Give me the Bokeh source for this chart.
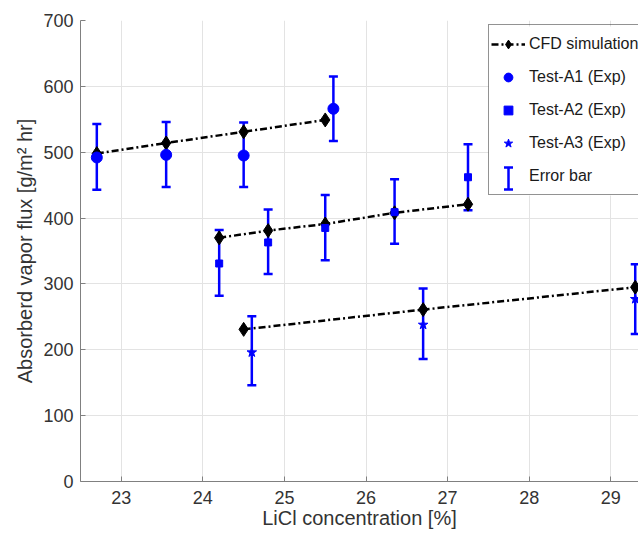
from bokeh.plotting import figure
from bokeh.models import (Legend, LegendItem, FixedTicker, Range1d)
from bokeh.embed import file_html
from bokeh.resources import INLINE

# ---- data ----
cfd1_x = [22.7, 23.55, 24.5, 25.5]
cfd1_y = [498, 514, 531, 549]
cfd2_x = [24.2, 24.8, 25.5, 26.35, 27.25]
cfd2_y = [370, 381, 391, 408, 421]
cfd3_x = [24.5, 26.7, 29.3]
cfd3_y = [231, 261, 295]

a1_x = [22.7, 23.55, 24.5, 25.6]
a1_y = [492, 496, 495, 566]
a1_low = [443, 447, 447, 517]
a1_up = [543, 546, 545, 615]

a2_x = [24.2, 24.8, 25.5, 26.35, 27.25]
a2_y = [331, 363, 385, 409, 462]
a2_low = [282, 315, 336, 361, 412]
a2_up = [382, 413, 435, 459, 512]

a3_x = [24.6, 26.7, 29.3]
a3_y = [196, 238, 277]
a3_low = [146, 186, 224]
a3_up = [251, 293, 330]

x_ticks = [23, 24, 25, 26, 27, 28, 29]
y_ticks = [0, 100, 200, 300, 400, 500, 600, 700]

legend_labels = ["CFD simulation", "Test-A1 (Exp)", "Test-A2 (Exp)", "Test-A3 (Exp)", "Error bar"]

FONT = "Liberation Sans"
BLUE = "#0000FF"

FRAME_W, FRAME_H = 558, 461
LEG_X, LEG_Y, LEG_H = 408, 286, 169   # legend box, frame pixels (bottom-left origin)

p = figure(width=638, height=536, x_range=Range1d(22.5, 29.34), y_range=Range1d(0, 700),
           output_backend="svg", toolbar_location=None,
           min_border_left=80, min_border_right=0, min_border_top=20, min_border_bottom=55)
p.outline_line_color = None
p.background_fill_color = "white"
p.border_fill_color = "white"
# pixel ranges used only for the legend background and its error-bar icon
p.extra_x_ranges = {"px": Range1d(0, FRAME_W)}
p.extra_y_ranges = {"px": Range1d(0, FRAME_H)}

# axes
for ax in (p.xaxis[0], p.yaxis[0]):
    ax.axis_line_color = "#808080"
    ax.axis_line_width = 1
    ax.major_tick_line_color = "#808080"
    ax.major_tick_in = 5
    ax.major_tick_out = 0
    ax.minor_tick_line_color = None
    ax.major_label_text_font = FONT
    ax.major_label_text_font_size = "18px"
    ax.major_label_text_color = "#333333"
    ax.axis_label_text_font = FONT
    ax.axis_label_text_font_size = "20px"
    ax.axis_label_text_font_style = "normal"
    ax.axis_label_text_color = "#333333"

p.xaxis.ticker = FixedTicker(ticks=x_ticks)
p.yaxis.ticker = FixedTicker(ticks=y_ticks)
p.xaxis.axis_label = "LiCl concentration [%]"
p.yaxis.axis_label = "Absorberd vapor flux [g/m\u00b2 hr]"
p.xaxis.major_label_standoff = 9
p.xaxis.axis_label_standoff = 0
p.yaxis.major_label_standoff = 7
p.yaxis.axis_label_standoff = 4

p.xgrid.ticker = FixedTicker(ticks=x_ticks)
p.ygrid.ticker = FixedTicker(ticks=y_ticks)
p.grid.grid_line_color = "#e3e3e3"
p.grid.grid_line_width = 1

# error bars (drawn first)
eb_x = a1_x + a2_x + a3_x
eb_low = a1_low + a2_low + a3_low
eb_up = a1_up + a2_up + a3_up
p.segment(x0=eb_x, y0=eb_low, x1=eb_x, y1=eb_up, line_color=BLUE, line_width=2.5)
p.scatter(x=eb_x, y=eb_low, marker="dash", size=9, line_color=BLUE, line_width=2.5)
p.scatter(x=eb_x, y=eb_up, marker="dash", size=9, line_color=BLUE, line_width=2.5)

# CFD simulation lines
dash = "7 3 2 3"
cfd_line = None
for xs, ys in ((cfd1_x, cfd1_y), (cfd2_x, cfd2_y), (cfd3_x, cfd3_y)):
    r = p.line(xs, ys, line_color="black", line_width=2.5, line_dash=dash)
    if cfd_line is None:
        cfd_line = r
cfd_pts = p.scatter(cfd1_x + cfd2_x + cfd3_x, cfd1_y + cfd2_y + cfd3_y, marker="diamond",
                    size=14, fill_color="black", line_color="black")

# experiments
r1 = p.scatter(a1_x, a1_y, marker="circle", size=11, fill_color=BLUE, line_color=BLUE)
r2 = p.scatter(a2_x, a2_y, marker="square", size=7, fill_color=BLUE, line_color=BLUE)
r3 = p.scatter(a3_x, a3_y, marker="star", size=10, fill_color=BLUE, line_color=BLUE)

dummy = p.scatter(x=[], y=[], marker="circle", alpha=0)

# white legend background (covers grid), then the error-bar icon on it
p.quad(left=[LEG_X], right=[FRAME_W + 10], bottom=[LEG_Y], top=[LEG_Y + LEG_H],
       fill_color="white", line_color=None, x_range_name="px", y_range_name="px")
ix, iy0, iy1 = [428], [292], [314]
p.segment(x0=ix, y0=iy0, x1=ix, y1=iy1, line_color=BLUE, line_width=2.5,
          x_range_name="px", y_range_name="px")
p.scatter(x=ix, y=iy0, marker="dash", size=9, line_color=BLUE, line_width=2.5,
          x_range_name="px", y_range_name="px")
p.scatter(x=ix, y=iy1, marker="dash", size=9, line_color=BLUE, line_width=2.5,
          x_range_name="px", y_range_name="px")

legend = Legend(items=[
    LegendItem(label=legend_labels[0], renderers=[cfd_line, cfd_pts]),
    LegendItem(label=legend_labels[1], renderers=[r1]),
    LegendItem(label=legend_labels[2], renderers=[r2]),
    LegendItem(label=legend_labels[3], renderers=[r3]),
    LegendItem(label=legend_labels[4], renderers=[dummy]),
], location=(LEG_X, LEG_Y))
legend.label_text_font = FONT
legend.label_text_font_size = "16px"
legend.label_text_color = "#1a1a1a"
legend.label_height = 33
legend.glyph_height = 22
legend.glyph_width = 34
legend.label_standoff = 4
legend.padding = 2
legend.spacing = 0
legend.margin = 0
legend.border_line_color = "#262626"
legend.border_line_width = 1
legend.background_fill_alpha = 0
p.add_layout(legend)

open("out.html", "w").write(file_html(p, INLINE))
